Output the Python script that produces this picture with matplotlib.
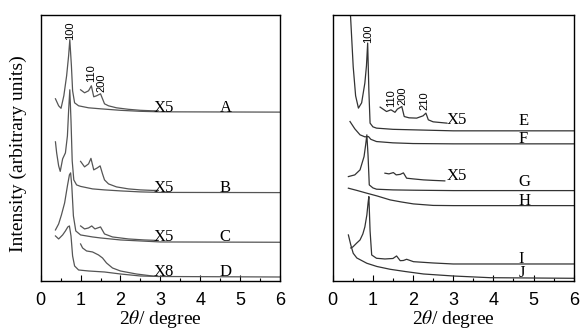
import matplotlib
matplotlib.use("Agg")
import matplotlib.pyplot as plt
from matplotlib.ticker import MultipleLocator

plt.rcParams['mathtext.fontset'] = 'stix'

# XRD patterns, intensity in arbitrary (offset) units
# left panel: samples A-D, main scan and magnified tail
a_x = [0.37, 0.45, 0.51, 0.58, 0.65, 0.70, 0.73, 0.77, 0.80, 0.85, 0.95, 1.2, 1.5, 2.0, 2.5, 3.0, 6.0]
a_y = [182, 175, 172.5, 185, 205, 225, 241, 215, 190, 178, 175, 173, 172, 170.5, 169.5, 169, 168.7]
a5_x = [1.0, 1.1, 1.2, 1.27, 1.33, 1.4, 1.45, 1.5, 1.55, 1.6, 1.7, 1.9, 2.2, 2.5, 2.8, 2.95]
a5_y = [191, 188, 190, 195, 184, 185, 186, 187, 182, 177, 175, 173, 171.5, 170.5, 170, 170]

b_x = [0.37, 0.40, 0.45, 0.49, 0.55, 0.62, 0.67, 0.70, 0.73, 0.76, 0.79, 0.83, 0.9, 1.0, 1.3, 1.6, 2.0, 2.5, 3.0, 6.0]
b_y = [139, 128, 115, 109.5, 122, 128, 145, 170, 191, 160, 120, 101, 96, 94.5, 92, 91, 90, 89, 88.5, 88.3]
b5_x = [1.0, 1.1, 1.2, 1.26, 1.33, 1.42, 1.49, 1.55, 1.6, 1.7, 1.9, 2.2, 2.5, 2.8, 2.95]
b5_y = [119.5, 114, 117, 122.5, 111, 113, 115, 107, 101, 97, 94, 92, 91, 90.5, 90.5]

c_x = [0.37, 0.45, 0.52, 0.60, 0.67, 0.72, 0.75, 0.78, 0.82, 0.88, 1.0, 1.3, 1.5, 2.0, 2.5, 3.0, 6.0]
c_y = [51, 57, 66, 78, 95, 106, 108, 95, 65, 50, 46, 44, 43, 41, 40, 39, 38.7]
c5_x = [1.0, 1.1, 1.2, 1.28, 1.36, 1.5, 1.6, 1.8, 2.2, 2.6, 2.95]
c5_y = [55, 52, 53, 55, 52, 54, 47, 44, 42, 41, 40.5]

d_x = [0.37, 0.45, 0.55, 0.62, 0.68, 0.72, 0.76, 0.80, 0.85, 0.95, 1.2, 1.6, 2.0, 2.5, 3.0, 6.0]
d_y = [45, 42, 46, 50, 54, 55, 45, 25, 15, 11, 10, 9, 7, 5, 4.5, 4]
d8_x = [1.0, 1.05, 1.15, 1.3, 1.45, 1.55, 1.65, 1.8, 2.0, 2.4, 2.8, 2.95]
d8_y = [37, 33, 30, 29, 26, 23, 18, 13, 10, 7, 5, 4.5]

# right panel: samples E-J
e_x = [0.43, 0.51, 0.57, 0.64, 0.72, 0.80, 0.84, 0.87, 0.90, 0.93, 1.0, 1.09, 1.5, 2.0, 3.0, 6.0]
e_y = [275, 214, 185, 172.7, 178, 197.7, 215, 237.7, 190, 157.7, 154, 152.7, 151.5, 151, 150, 150]
e5_x = [1.18, 1.34, 1.45, 1.55, 1.61, 1.72, 1.78, 1.9, 2.09, 2.25, 2.32, 2.38, 2.5, 2.84]
e5_y = [173.7, 169.3, 171, 168.5, 171.7, 174.3, 164.3, 163, 162.7, 165, 167.7, 161, 159, 157.7]

f_x = [0.43, 0.55, 0.68, 0.80, 0.89, 0.95, 1.09, 1.5, 2.0, 3.0, 6.0]
f_y = [159.3, 152, 146, 144, 144.3, 141.5, 139.3, 138, 137.3, 137, 137]

g_x = [0.39, 0.55, 0.68, 0.78, 0.82, 0.85, 0.88, 0.91, 1.0, 1.09, 1.5, 2.0, 3.0, 6.0]
g_y = [104.3, 106, 111, 124.3, 136, 146, 125, 96, 93, 91.7, 91, 90.7, 90.3, 90.3]
g5_x = [1.30, 1.4, 1.51, 1.58, 1.68, 1.76, 1.84, 2.0, 2.26, 2.5, 2.79]
g5_y = [107.7, 107, 108.3, 106, 106.5, 108, 102.7, 102, 101, 100.5, 100]

h_x = [0.39, 0.6, 0.85, 1.1, 1.43, 1.7, 2.01, 2.5, 3.0, 6.0]
h_y = [92.7, 90.5, 87.7, 85, 81, 79, 77, 75.5, 75.3, 75.3]

i_x = [0.45, 0.50, 0.60, 0.68, 0.75, 0.80, 0.85, 0.88, 0.90, 0.93, 0.97, 1.09, 1.3, 1.5, 1.59, 1.68, 1.76, 1.84, 2.01, 2.5, 3.0, 6.0]
i_y = [33, 34, 38, 41, 47, 54, 66, 78, 84.3, 50, 26, 22.7, 22, 22.5, 25, 20.3, 20.5, 21.7, 19.3, 18, 17, 17]

j_x = [0.39, 0.45, 0.51, 0.6, 0.85, 1.1, 1.43, 1.8, 2.26, 3.0, 3.92, 6.0]
j_y = [46, 36, 27.7, 23, 17.7, 14.5, 11.7, 9.5, 7, 5, 3.3, 2.7]

left_curves = [(a_x, a_y), (a5_x, a5_y), (b_x, b_y), (b5_x, b5_y),
               (c_x, c_y), (c5_x, c5_y), (d_x, d_y), (d8_x, d8_y)]
right_curves = [(e_x, e_y), (e5_x, e5_y), (f_x, f_y), (g_x, g_y), (g5_x, g5_y),
                (h_x, h_y), (i_x, i_y), (j_x, j_y)]

left_tags = [('X5', 2.82, 169), ('X5', 2.82, 89), ('X5', 2.82, 39.5), ('X8', 2.82, 4.5),
             ('A', 4.49, 169), ('B', 4.49, 89), ('C', 4.49, 39.5), ('D', 4.49, 4.5)]
right_tags = [('X5', 2.84, 157), ('X5', 2.84, 101), ('E', 4.62, 155.5), ('F', 4.62, 137.5),
              ('G', 4.62, 95), ('H', 4.62, 76), ('I', 4.62, 18), ('J', 4.62, 3.5)]
left_hkl = [('100', 0.74, 241), ('110', 1.27, 199), ('200', 1.52, 189)]
right_hkl = [('100', 0.89, 238), ('110', 1.46, 174), ('200', 1.73, 176), ('210', 2.28, 171)]

serif = 'Liberation Serif'
sans = 'Liberation Sans'

fig = plt.figure(figsize=(5.83, 3.29), dpi=100)
ax1 = fig.add_axes([0.0698, 0.1459, 0.4105, 0.8094])
ax2 = fig.add_axes([0.5707, 0.1459, 0.4134, 0.8094])

for ax, curves, tags, hkl, col in [(ax1, left_curves, left_tags, left_hkl, '#555555'),
                                   (ax2, right_curves, right_tags, right_hkl, '#333333')]:
    for xs, ys in curves:
        ax.plot(xs, ys, color=col, lw=0.9)
    for t, x, y in tags:
        ax.text(x, y, t, fontsize=12, family=serif, ha='left', va='baseline')
    for t, x, y in hkl:
        ax.text(x, y, t, fontsize=8, family=sans, rotation=90, ha='center', va='bottom')
    ax.set_xlim(0, 6)
    ax.set_ylim(0, 266)
    ax.set_yticks([])
    ax.xaxis.set_major_locator(MultipleLocator(1))
    ax.xaxis.set_minor_locator(MultipleLocator(0.5))
    ax.tick_params(axis='x', which='major', direction='in', length=4, width=0.8,
                   labelsize=13, pad=8)
    ax.tick_params(axis='x', which='minor', direction='in', length=2.5, width=0.8)
    for lab in ax.get_xticklabels():
        lab.set_family(sans)
    ax.set_xlabel(r'2$\theta$/ degree', fontsize=14, family=serif, va='baseline')
    ax.xaxis.set_label_coords(0.5, -0.16)
    for s in ax.spines.values():
        s.set_linewidth(1.0)

ax1.set_ylabel('Intensity (arbitrary units)', fontsize=14, family=serif)
ax1.yaxis.set_label_coords(-0.058, 0.48)

fig.savefig('out.png', dpi=100)
